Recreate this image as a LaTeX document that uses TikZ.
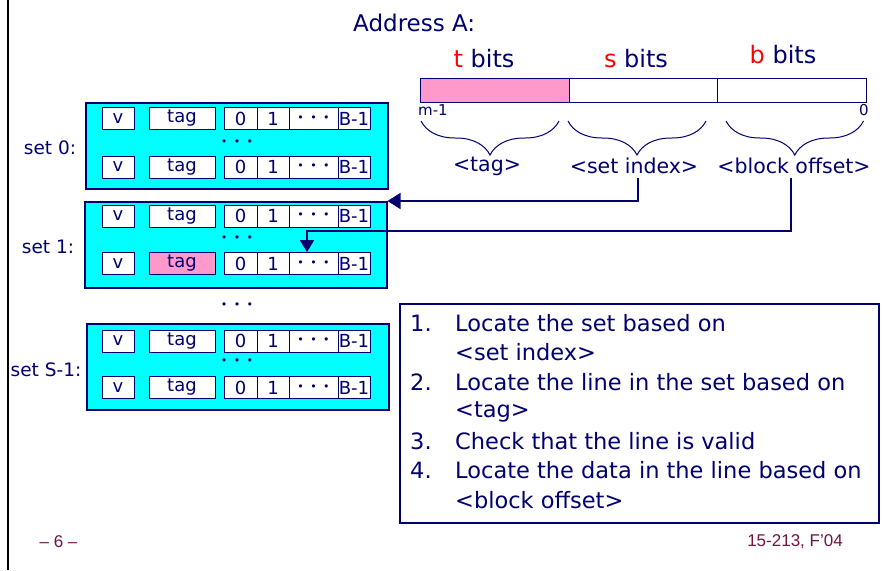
\documentclass[tikz,border=0pt]{standalone}
\usepackage{fontspec}
\setmainfont{DejaVu Sans}
\newfontfamily\footfont{Liberation Sans}
\usetikzlibrary{arrows.meta,decorations.pathreplacing}
\definecolor{navy}{RGB}{0,0,110}
\definecolor{cyanfill}{RGB}{0,255,255}
\definecolor{pinkfill}{RGB}{255,153,204}
\definecolor{footcol}{RGB}{110,20,70}
\newcommand\fs[1]{\fontsize{#1}{#1}\selectfont}
\newcommand\tridots{\fs{11}•\hspace{6.5pt}•\hspace{6.5pt}•}
\newcommand\cacherow[3]{%
  \node[cell,minimum width=32pt] (#1v) at (118,#2) {v};
  \node[cell,minimum width=66pt,fill=#3] (#1t) at (182,#2) {tag};
  \node[cell,minimum width=33pt] (#1z) at (240.5,#2) {0};
  \node[cell,minimum width=32pt] (#1o) at (273,#2) {1};
  \node[cell,minimum width=49pt] (#1d) at (313.5,#2) {\tridots};
  \node[cell,minimum width=32pt] (#1b) at (354,#2) {B-1};
}
\begin{document}
\begin{tikzpicture}[x=1pt,y=-1pt,
  cell/.style={draw=navy,line width=0.8pt,fill=white,minimum height=22pt,inner sep=0pt,text=navy,font=\fs{18}},
  setbox/.style={draw=navy,line width=1.5pt,fill=cyanfill,minimum width=302pt,minimum height=86pt,anchor=north west,inner sep=0pt},
  setlabel/.style={text=navy,font=\fs{18.5},inner sep=0pt},
  dotsnode/.style={text=navy,inner sep=0pt},
  lbl/.style={text=navy,inner sep=0pt},
  brc/.style={draw=navy,line width=1pt,decorate,decoration={brace,mirror,amplitude=34pt}},
  conn/.style={draw=navy,line width=1.6pt},
  listtxt/.style={text=navy,font=\fs{22.5},anchor=west,inner sep=0pt},
  foot/.style={text=footcol,font=\footfont\fs{17},inner sep=0pt}]
\useasboundingbox (0,0) rectangle (883,570);
\fill[white] (0,0) rectangle (883,570);
% left border line
\coordinate (lt) at (8,0);
\coordinate (lb) at (8,570);
\draw[black,line width=2pt] (lt) -- (lb);

% ---- address ----
\node[lbl,font=\fs{23},anchor=west] (addr) at (353,22.5) {Address A:};
\node[draw=navy,line width=1.2pt,fill=pinkfill,anchor=north west,minimum width=148.5pt,minimum height=23.5pt,inner sep=0pt] (tf) at (420,78) {};
\node[draw=navy,line width=1.2pt,fill=white,anchor=north west,minimum width=148.5pt,minimum height=23.5pt,inner sep=0pt] (sf) at (568.5,78) {};
\node[draw=navy,line width=1.2pt,fill=white,anchor=north west,minimum width=149pt,minimum height=23.5pt,inner sep=0pt] (bf) at (717,78) {};
\node[lbl,font=\fs{24}] (tb) at (484,59) {\textcolor{red}{t} bits};
\node[lbl,font=\fs{24}] (sb) at (636,59) {\textcolor{red}{s} bits};
\node[lbl,font=\fs{24}] (bb) at (783,55) {\textcolor{red}{b} bits};
\node[lbl,font=\fs{15}] (mm) at (433,110) {m-1};
\node[lbl,font=\fs{15}] (zz) at (864,110) {0};
\coordinate (b1l) at (421,121); \coordinate (b1r) at (559,121);
\coordinate (b2l) at (568,121); \coordinate (b2r) at (706,121);
\coordinate (b3l) at (726,121); \coordinate (b3r) at (863.5,121);
\draw[brc] (b1l) -- (b1r);
\draw[brc] (b2l) -- (b2r);
\draw[brc] (b3l) -- (b3r);
\node[lbl,font=\fs{20.5}] (ltag) at (487,166) {<tag>};
\node[lbl,font=\fs{20.5}] (lsi) at (634,166) {<set index>};
\node[lbl,font=\fs{20.5}] (lbo) at (794,166) {<block offset>};

% ---- sets ----
\node[setbox] (set0) at (85,102) {};
\node[setbox] (set1) at (84,201) {};
\node[setbox] (setS) at (86,323) {};
\cacherow{a}{118.5}{white}
\cacherow{b}{167}{white}
\cacherow{c}{216}{white}
\cacherow{d}{263.5}{pinkfill}
\cacherow{e}{341}{white}
\cacherow{f}{387.5}{white}
\node[dotsnode] (dots0) at (237,143) {\tridots};
\node[dotsnode] (dots1) at (237,239) {\tridots};
\node[dotsnode] (dotsS) at (237,362) {\tridots};
\node[dotsnode] (dotsM) at (237,306) {\tridots};
\node[setlabel] (l0) at (50,148) {set 0:};
\node[setlabel] (l1) at (48,247) {set 1:};
\node[setlabel] (lS) at (46,370) {set S-1:};

% ---- connectors ----
\coordinate (siA) at (638,178);
\coordinate (boA) at (791,178);
\draw[conn,-{Triangle[length=13pt,width=16pt]}] (siA) |- (set1.north east);
\draw[conn,-{Triangle[length=12pt,width=14pt]}] (boA) -- ++(0,53) -| ([xshift=-6.5pt]dd.north);

% ---- list ----
\node[draw=navy,line width=1.8pt,anchor=north west,minimum width=479pt,minimum height=219pt,inner sep=0pt] (lst) at (399,303) {};
\node[listtxt] (n1) at (410,323) {1.};
\node[listtxt] (t1) at (455,323) {Locate the set based on};
\node[listtxt] (t1b) at (455,352.5) {<set index>};
\node[listtxt] (n2) at (410,382) {2.};
\node[listtxt] (t2) at (455,382) {Locate the line in the set based on};
\node[listtxt] (t2b) at (455,411.5) {<tag>};
\node[listtxt] (n3) at (410,441) {3.};
\node[listtxt] (t3) at (455,441) {Check that the line is valid};
\node[listtxt] (n4) at (410,470.5) {4.};
\node[listtxt] (t4) at (455,470.5) {Locate the data in the line based on};
\node[listtxt] (t4b) at (455,500) {<block offset>};

% ---- footer ----
\node[foot] (pg) at (58.5,542) {– 6 –};
\node[foot] (crs) at (795,542) {15-213, F’04};
\end{tikzpicture}
\end{document}
